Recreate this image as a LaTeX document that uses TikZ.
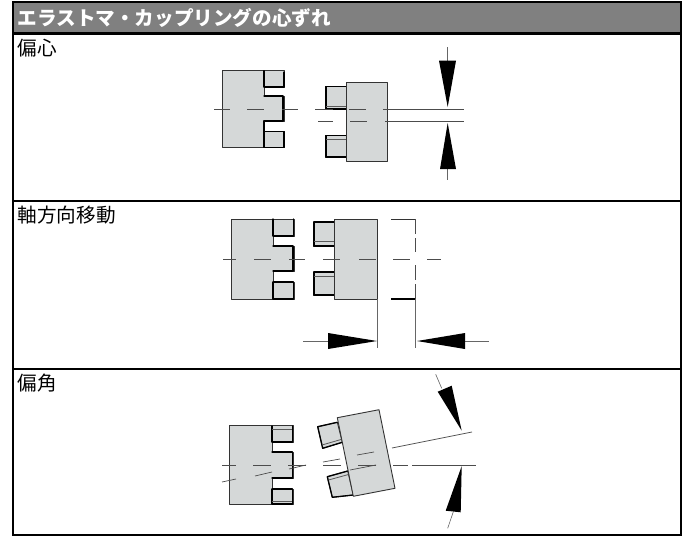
\documentclass[tikz,border=0pt]{standalone}
\usepackage{fontspec}
\setmainfont{Noto Sans CJK JP}
\definecolor{partgray}{HTML}{D5D8D8}
\definecolor{headgray}{HTML}{808080}
\tikzset{
  x=1pt,y=-1pt,
  part/.style={fill=partgray,draw=black!80,line width=0.9pt,line join=round},
  heavy/.style={draw=black,line width=1.3pt,line cap=round,line join=round},
  band/.style={draw=black!65,line width=0.8pt},
  axis/.style={draw=black!70,line width=0.7pt},
  dim/.style={draw=black!60,line width=0.6pt},
  tip/.style={fill=black,draw=none},
  rowlabel/.style={anchor=north west,inner sep=0pt,font=\fontsize{19.6pt}{22pt}\selectfont,text=black},
  headlabel/.style={anchor=west,inner sep=0pt,font=\fontsize{19.6pt}{22pt}\selectfont\bfseries,text=white},
  frame/.style={draw=black,line width=2.6pt}
}
\begin{document}
\begin{tikzpicture}
\useasboundingbox (0,0) rectangle (686,536);
\fill[white] (0,0) rectangle (686,536);
\fill[headgray] (13,2) rectangle (681,33.5);
\draw[frame] (13,2) rectangle (681,535);
\draw[frame] (13,33.5) -- (681,33.5);
\draw[frame] (13,201) -- (681,201);
\draw[frame] (13,369) -- (681,369);
\node[headlabel] (title) at (17.5,17.5) {エラストマ・カップリングの心ずれ};
\node[rowlabel] (r1) at (17.5,39) {偏心};
\node[rowlabel] (r2) at (17.5,206) {軸方向移動};
\node[rowlabel] (r3) at (17.5,374) {偏角};
% row 1
\draw[part] (222.7,70.7) -| (284,87) -| (264,96) -| (284,121) -| (264,131.7) -| (284,147.7) -| cycle;
\draw[heavy] (264,70.7)--(264,87)--(284,87)--(284,72);
\draw[heavy] (264,96)--(283,96)--(283,121)--(264,121)--(264,131.7)--(284,131.7)--(284,147.7)--(264,147.7)--(264,131.7);
\draw[part] (325,86.7) rectangle (346,109);
\draw[part] (325,135.7) rectangle (346,157);
\draw[heavy] (346,86.7)--(326,86.7)--(326,109)--(346,109);
\draw[band] (326,106.5)--(346,106.5);
\draw[heavy] (346,135.7)--(326,135.7)--(326,157)--(346,157);
\draw[band] (326,139)--(346,139);
\draw[part] (346,82.7) rectangle (387,161);
\foreach \a/\b in {214/230,247/264,282/298,315/333,349/366,383/464} \draw[axis] (\a,109.3)--(\b,109.3);
\foreach \a/\b in {318/333,350/367,385/464} \draw[axis] (\a,121.7)--(\b,121.7);
\draw[dim] (447.7,47)--(447.7,61);
\draw[dim] (447.7,169)--(447.7,180);
\fill[tip] (439,60.7)--(456,60.7)--(447.7,107)--cycle;
\fill[tip] (440,169)--(456,169)--(447.7,123)--cycle;
% row 2
\draw[part] (231,219) -| (294,236) -| (273,246) -| (294,271) -| (273,282) -| (294,299) -| cycle;
\draw[heavy] (273,219)--(273,236)--(293.5,236)--(293.5,219);
\draw[heavy] (273,246)--(293,246)--(293,271)--(273,271);
\draw[heavy] (273,282)--(293.5,282)--(293.5,299)--(273,299)--(273,282);
\draw[part] (313,222) rectangle (334,246);
\draw[part] (313,272) rectangle (334,295);
\draw[heavy] (334,222)--(314,222)--(314,246)--(334,246);
\draw[band] (314,241)--(334,241);
\draw[heavy] (334,272)--(314,272)--(314,295)--(334,295);
\draw[band] (314,276)--(334,276);
\draw[part] (334,219) rectangle (377,299);
\foreach \a/\b in {223/236,254/271,289/305,323/340,359/376,393/410,427/441} \draw[axis] (\a,259.3)--(\b,259.3);
\draw[draw=black!80,line width=0.9pt] (391,219)--(415,219);
\draw[draw=black,line width=1.2pt] (391,299)--(415,299);
\foreach \a/\b in {219/234,238/252,265/280,284/299} \draw[draw=black!70,line width=0.8pt] (415,\a)--(415,\b);
\draw[dim] (377,299)--(377,348);
\draw[dim] (415,299)--(415,348);
\draw[dim] (303,341)--(328,341);
\draw[dim] (465,341)--(489,341);
\fill[tip] (328,333)--(328,349)--(377,341)--cycle;
\fill[tip] (465,333)--(465,349)--(417,341)--cycle;
% row 3
\draw[part] (229,425.7) -| (293,442) -| (272,452) -| (293,478) -| (272,489) -| (293,504) -| cycle;
\draw[heavy] (272,426)--(272,442)--(292.5,442)--(292.5,426);
\draw[band] (272,429)--(292,429);
\draw[heavy] (272,452)--(292.5,452)--(292.5,478)--(272,478);
\draw[heavy] (272,489)--(292.5,489)--(292.5,504)--(272,504)--(272,489);
\draw[band] (272,501)--(292,501);
\draw[part] (317.7,426.7)--(337.3,422.3)--(342.3,442.3)--(322.7,448.3)--cycle;
\draw[heavy] (337.3,422.3)--(317.7,426.7)--(322.7,448.3)--(342.3,442.3);
\draw[band] (322,445)--(341,439.5);
\draw[part] (327.3,476.7)--(347.7,471)--(353.3,495)--(332.3,497.3)--cycle;
\draw[heavy] (347.7,471)--(327.3,476.7)--(332.3,497.3)--(353.3,495);
\draw[band] (328.5,480)--(348.5,474.5);
\draw[part] (337.3,417.7)--(379,409.7)--(395,488.3)--(353.3,496.3)--cycle;
\foreach \a/\b in {222/236,253/271,288/306,323/341,358/376,393/408,412/476} \draw[axis] (\a,465)--(\b,465);
\foreach \a/\b/\c/\d in {222/482/236/479,255/476/272/472,289/469/306/465,323/462/340/459,357/455/374/452,392/448/472/432} \draw[axis] (\a,\b)--(\c,\d);
\draw[axis] (350,470)--(376,465);
\draw[dim] (435.7,374.3)--(441.7,388.3);
\draw[dim] (453.3,511.7)--(447.7,528.3);
\fill[tip] (437.7,391.7)--(451.7,385.7)--(461.7,430.7)--cycle;
\fill[tip] (445.7,510.7)--(460.7,512.3)--(461.7,466)--cycle;
\end{tikzpicture}
\end{document}
